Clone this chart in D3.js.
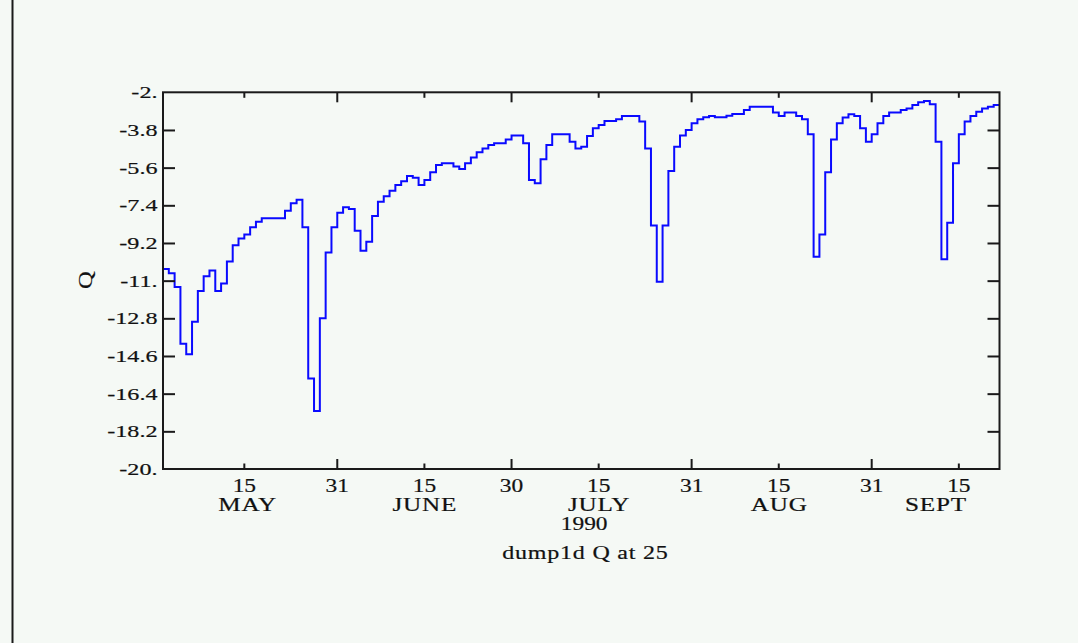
<!DOCTYPE html>
<html>
<head>
<meta charset="utf-8">
<script src="https://cdn.jsdelivr.net/npm/d3@7"></script>
<style>
  html, body { margin: 0; padding: 0; background: #f5f9f5; }
  svg { display: block; }
  text { font-family: "Liberation Serif", "Times New Roman", serif; fill: #111; stroke: #111; stroke-width: 0.2px; }
</style>
</head>
<body>
<svg id="chart" width="1078" height="643"></svg>
<script>
// ---- data ----
const startDate = "1990-05-01";
const endDate = "1990-09-22";
// daily Q values starting May 1, 1990
const qValues = [
  -10.44, -10.65, -11.30, -14.01, -14.52, -12.96, -11.49, -10.79, -10.52, -11.49,
  -11.14, -10.08, -9.31, -8.98, -8.79, -8.45, -8.18, -8.02, -8.02, -8.02,
  -8.02, -7.66, -7.30, -7.13, -8.45, -15.67, -17.23, -12.80, -9.66, -8.45,
  -7.75, -7.49, -7.58, -8.61, -9.57, -9.14, -7.91, -7.23, -6.97, -6.70,
  -6.43, -6.25, -6.00, -6.08, -6.43, -6.19, -5.82, -5.47, -5.39, -5.39,
  -5.55, -5.66, -5.39, -5.12, -4.87, -4.68, -4.52, -4.44, -4.44, -4.25,
  -4.07, -4.07, -4.44, -6.19, -6.35, -5.20, -4.52, -4.01, -4.01, -4.01,
  -4.36, -4.68, -4.60, -4.09, -3.72, -3.56, -3.37, -3.37, -3.29, -3.13,
  -3.13, -3.13, -3.40, -4.68, -8.37, -11.05, -8.37, -5.76, -4.60, -4.07,
  -3.80, -3.48, -3.29, -3.19, -3.13, -3.19, -3.19, -3.12, -3.04, -3.04,
  -2.85, -2.69, -2.69, -2.69, -2.69, -2.96, -3.13, -2.96, -2.96, -3.13,
  -3.29, -4.01, -9.86, -8.79, -5.82, -4.25, -3.48, -3.21, -3.05, -3.13,
  -3.72, -4.36, -4.01, -3.48, -3.13, -2.96, -2.96, -2.85, -2.77, -2.61,
  -2.48, -2.42, -2.57, -4.36, -9.98, -8.23, -5.39, -4.01, -3.40, -3.13,
  -2.93, -2.77, -2.69, -2.61
];
const yTickValues = [-2, -3.8, -5.6, -7.4, -9.2, -11, -12.8, -14.6, -16.4, -18.2, -20];
const yTickLabels = ["-2.", "-3.8", "-5.6", "-7.4", "-9.2", "-11.", "-12.8", "-14.6", "-16.4", "-18.2", "-20."];
const xTickDates = ["1990-05-15", "1990-05-31", "1990-06-15", "1990-06-30", "1990-07-15", "1990-07-31", "1990-08-15", "1990-08-31", "1990-09-15"];
const xTickLabels = ["15", "31", "15", "30", "15", "31", "15", "31", "15"];
const xTickMajor = [false, true, false, true, false, true, false, true, false];
const monthNames = ["MAY", "JUNE", "JULY", "AUG", "SEPT"];
const monthAnchors = ["1990-05-15T12:00", "1990-06-15", "1990-07-15", "1990-08-15", "1990-09-11"];
const yearLabel = "1990";
const yearAnchor = "1990-07-12T12:00";
const yLabel = "Q";
const caption = "dump1d Q at 25";

// ---- layout ----
const svg = d3.select("#chart");
const L = 163, R = 999.5, T = 92.3, B = 469;
const parse = s => new Date(s.length > 10 ? s + "Z" : s + "T00:00Z");
const x = d3.scaleUtc().domain([parse(startDate), parse(endDate)]).range([L, R]);
const y = d3.scaleLinear().domain([-20, -2]).range([B, T]);

svg.append("rect").attr("width", 1078).attr("height", 643).attr("fill", "#f5f9f5");
// window edge line
svg.append("line").attr("x1", 12.5).attr("x2", 12.5).attr("y1", 0).attr("y2", 643)
  .attr("stroke", "#1a1a1a").attr("stroke-width", 2);

const t0 = parse(startDate);
const pts = qValues.map((v, i) => ({ d: d3.utcDay.offset(t0, i), v }));
pts.push({ d: d3.utcDay.offset(t0, qValues.length), v: qValues[qValues.length - 1] });

const line = d3.line().curve(d3.curveStepAfter).x(p => x(p.d)).y(p => y(p.v));
svg.append("path").datum(pts).attr("d", line)
  .attr("fill", "none").attr("stroke", "#0a0aff").attr("stroke-width", 2);

// frame
svg.append("rect").attr("x", L).attr("y", T).attr("width", R - L).attr("height", B - T)
  .attr("fill", "none").attr("stroke", "#1a1a1a").attr("stroke-width", 2);

// y ticks (inward, both sides)
const inner = yTickValues.filter(v => v !== -2 && v !== -20);
const yL = d3.axisLeft(y).tickValues(inner).tickSizeInner(-12).tickSizeOuter(0).tickFormat("");
const yR = d3.axisRight(y).tickValues(inner).tickSizeInner(-12).tickSizeOuter(0).tickFormat("");
[[yL, L], [yR, R]].forEach(([ax, pos]) => {
  const g = svg.append("g").attr("transform", `translate(${pos},0)`).call(ax);
  g.select(".domain").remove();
  g.selectAll("line").attr("stroke", "#1a1a1a").attr("stroke-width", 2);
});

// x ticks (inward, top and bottom)
xTickDates.forEach((ds, i) => {
  const xx = x(parse(ds));
  const len = xTickMajor[i] ? 10 : 5.5;
  svg.append("line").attr("x1", xx).attr("x2", xx).attr("y1", B).attr("y2", B - len)
    .attr("stroke", "#1a1a1a").attr("stroke-width", 2);
  svg.append("line").attr("x1", xx).attr("x2", xx).attr("y1", T).attr("y2", T + len)
    .attr("stroke", "#1a1a1a").attr("stroke-width", 2);
});

function label(px, py, txt, size, anchor, sx, rot, ls) {
  const g = svg.append("g").attr("transform",
    `translate(${px},${py})` + (rot ? ` rotate(${rot})` : "") + ` scale(${sx},1)`);
  const t = g.append("text").attr("text-anchor", anchor).attr("font-size", size).text(txt);
  if (ls) t.attr("letter-spacing", ls).attr("dx", anchor === "end" ? ls : (anchor === "middle" ? ls / 2 : 0));
}

// y tick labels
yTickValues.forEach((v, i) => label(157.5, y(v) + 6, yTickLabels[i], 17.5, "end", 1.38));

// x tick labels
xTickDates.forEach((ds, i) => label(x(parse(ds)), 492, xTickLabels[i], 18, "middle", 1.3));
monthNames.forEach((m, i) => label(x(parse(monthAnchors[i])), 511, m, 18, "middle", 1.4, 0, 0.6));
label(x(parse(yearAnchor)), 529.5, yearLabel, 18, "middle", 1.3);
label(585, 558.5, caption, 18.5, "middle", 1.3, 0, 0.6);
label(92, 280, yLabel, 19, "middle", 1.3, -90);
</script>
</body>
</html>
